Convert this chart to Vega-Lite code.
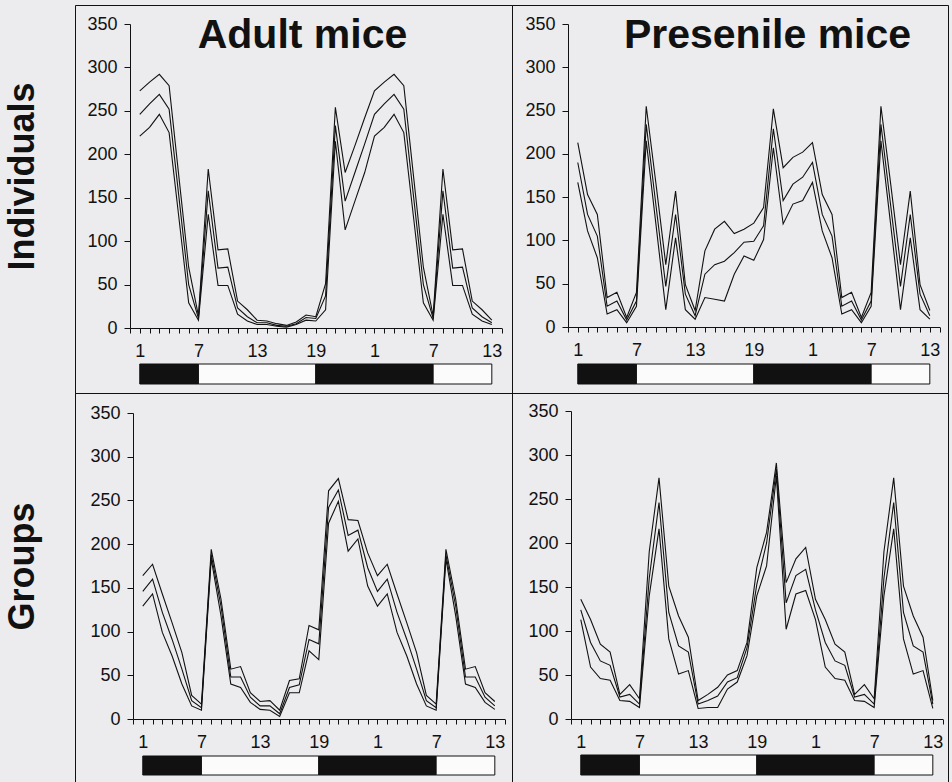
{
  "$schema": "https://vega.github.io/schema/vega-lite/v6.json",
  "background": "#ececee",
  "padding": {"left": 4, "top": 4, "right": 4, "bottom": 1},
  "config": {
    "font": "Liberation Sans",
    "view": {"stroke": "#111", "strokeWidth": 1},
    "concat": {"spacing": 0},
    "axis": {
      "grid": false,
      "domainColor": "#111",
      "tickColor": "#111",
      "labelColor": "#111",
      "labelFont": "Liberation Sans",
      "labelFontSize": 18,
      "labelFlush": false,
      "labelOverlap": false,
      "domainWidth": 1,
      "tickWidth": 1,
      "titleFont": "Liberation Sans",
      "titleFontSize": 36,
      "titleFontWeight": "bold",
      "titleColor": "#111"
    }
  },
  "datasets": {
    "strip": [
      {"h": 0, "h2": 6, "phase": "dark"},
      {"h": 6, "h2": 18, "phase": "light"},
      {"h": 18, "h2": 30, "phase": "dark"},
      {"h": 30, "h2": 36, "phase": "light"}
    ],
    "p1": [
      {"h": 0, "hi": 273, "mid": 246, "lo": 221},
      {"h": 1, "hi": 283, "mid": 258, "lo": 231},
      {"h": 2, "hi": 292, "mid": 269, "lo": 246},
      {"h": 3, "hi": 279, "mid": 252, "lo": 225},
      {"h": 4, "hi": 174, "mid": 151, "lo": 127},
      {"h": 5, "hi": 70, "mid": 50, "lo": 29},
      {"h": 6, "hi": 14, "mid": 11, "lo": 9},
      {"h": 7, "hi": 183, "mid": 158, "lo": 131},
      {"h": 8, "hi": 90, "mid": 69, "lo": 49},
      {"h": 9, "hi": 91, "mid": 70, "lo": 49},
      {"h": 10, "hi": 31, "mid": 23, "lo": 16},
      {"h": 11, "hi": 21, "mid": 13, "lo": 8},
      {"h": 12, "hi": 9, "mid": 6, "lo": 4},
      {"h": 13, "hi": 8, "mid": 6, "lo": 4},
      {"h": 14, "hi": 5, "mid": 3, "lo": 2},
      {"h": 15, "hi": 3, "mid": 2, "lo": 1},
      {"h": 16, "hi": 7, "mid": 5, "lo": 4},
      {"h": 17, "hi": 15, "mid": 12, "lo": 9},
      {"h": 18, "hi": 13, "mid": 11, "lo": 8},
      {"h": 19, "hi": 51, "mid": 37, "lo": 21},
      {"h": 20, "hi": 254, "mid": 233, "lo": 215},
      {"h": 21, "hi": 179, "mid": 146, "lo": 113},
      {"h": 22, "hi": 210, "mid": 179, "lo": 146},
      {"h": 23, "hi": 242, "mid": 212, "lo": 179},
      {"h": 24, "hi": 273, "mid": 246, "lo": 221},
      {"h": 25, "hi": 283, "mid": 258, "lo": 231},
      {"h": 26, "hi": 292, "mid": 269, "lo": 246},
      {"h": 27, "hi": 279, "mid": 252, "lo": 225},
      {"h": 28, "hi": 174, "mid": 151, "lo": 127},
      {"h": 29, "hi": 70, "mid": 50, "lo": 29},
      {"h": 30, "hi": 14, "mid": 11, "lo": 9},
      {"h": 31, "hi": 183, "mid": 158, "lo": 131},
      {"h": 32, "hi": 90, "mid": 69, "lo": 49},
      {"h": 33, "hi": 91, "mid": 70, "lo": 49},
      {"h": 34, "hi": 31, "mid": 23, "lo": 16},
      {"h": 35, "hi": 21, "mid": 13, "lo": 8},
      {"h": 36, "hi": 9, "mid": 6, "lo": 4}
    ],
    "p2": [
      {"h": 0, "hi": 213, "mid": 190, "lo": 167},
      {"h": 1, "hi": 153, "mid": 130, "lo": 111},
      {"h": 2, "hi": 130, "mid": 105, "lo": 80},
      {"h": 3, "hi": 34, "mid": 24, "lo": 15},
      {"h": 4, "hi": 40, "mid": 30, "lo": 20},
      {"h": 5, "hi": 11, "mid": 8, "lo": 5},
      {"h": 6, "hi": 40, "mid": 30, "lo": 24},
      {"h": 7, "hi": 255, "mid": 234, "lo": 215},
      {"h": 8, "hi": 165, "mid": 140, "lo": 118},
      {"h": 9, "hi": 72, "mid": 47, "lo": 20},
      {"h": 10, "hi": 157, "mid": 130, "lo": 103},
      {"h": 11, "hi": 49, "mid": 38, "lo": 20},
      {"h": 12, "hi": 19, "mid": 13, "lo": 9},
      {"h": 13, "hi": 88, "mid": 61, "lo": 34},
      {"h": 14, "hi": 113, "mid": 72, "lo": 32},
      {"h": 15, "hi": 122, "mid": 76, "lo": 30},
      {"h": 16, "hi": 108, "mid": 86, "lo": 61},
      {"h": 17, "hi": 113, "mid": 98, "lo": 82},
      {"h": 18, "hi": 120, "mid": 99, "lo": 77},
      {"h": 19, "hi": 138, "mid": 117, "lo": 101},
      {"h": 20, "hi": 252, "mid": 229, "lo": 207},
      {"h": 21, "hi": 184, "mid": 146, "lo": 119},
      {"h": 22, "hi": 196, "mid": 165, "lo": 142},
      {"h": 23, "hi": 202, "mid": 173, "lo": 146},
      {"h": 24, "hi": 213, "mid": 190, "lo": 167},
      {"h": 25, "hi": 153, "mid": 130, "lo": 111},
      {"h": 26, "hi": 130, "mid": 105, "lo": 80},
      {"h": 27, "hi": 34, "mid": 24, "lo": 15},
      {"h": 28, "hi": 40, "mid": 30, "lo": 20},
      {"h": 29, "hi": 11, "mid": 8, "lo": 5},
      {"h": 30, "hi": 40, "mid": 30, "lo": 24},
      {"h": 31, "hi": 255, "mid": 234, "lo": 215},
      {"h": 32, "hi": 165, "mid": 140, "lo": 118},
      {"h": 33, "hi": 72, "mid": 47, "lo": 20},
      {"h": 34, "hi": 157, "mid": 130, "lo": 103},
      {"h": 35, "hi": 49, "mid": 38, "lo": 20},
      {"h": 36, "hi": 19, "mid": 13, "lo": 9}
    ],
    "p3": [
      {"h": 0, "hi": 164, "mid": 146, "lo": 129},
      {"h": 1, "hi": 177, "mid": 160, "lo": 143},
      {"h": 2, "hi": 143, "mid": 122, "lo": 99},
      {"h": 3, "hi": 110, "mid": 91, "lo": 72},
      {"h": 4, "hi": 76, "mid": 57, "lo": 40},
      {"h": 5, "hi": 27, "mid": 21, "lo": 15},
      {"h": 6, "hi": 17, "mid": 13, "lo": 10},
      {"h": 7, "hi": 194, "mid": 188, "lo": 183},
      {"h": 8, "hi": 137, "mid": 129, "lo": 118},
      {"h": 9, "hi": 57, "mid": 48, "lo": 40},
      {"h": 10, "hi": 60, "mid": 48, "lo": 36},
      {"h": 11, "hi": 30, "mid": 25, "lo": 19},
      {"h": 12, "hi": 20, "mid": 15, "lo": 11},
      {"h": 13, "hi": 21, "mid": 15, "lo": 10},
      {"h": 14, "hi": 10, "mid": 6, "lo": 3},
      {"h": 15, "hi": 44, "mid": 36, "lo": 30},
      {"h": 16, "hi": 46, "mid": 39, "lo": 30},
      {"h": 17, "hi": 107, "mid": 91, "lo": 78},
      {"h": 18, "hi": 102, "mid": 86, "lo": 68},
      {"h": 19, "hi": 261, "mid": 242, "lo": 224},
      {"h": 20, "hi": 275, "mid": 262, "lo": 249},
      {"h": 21, "hi": 228, "mid": 210, "lo": 192},
      {"h": 22, "hi": 227, "mid": 216, "lo": 206},
      {"h": 23, "hi": 190, "mid": 173, "lo": 152},
      {"h": 24, "hi": 164, "mid": 146, "lo": 129},
      {"h": 25, "hi": 177, "mid": 160, "lo": 143},
      {"h": 26, "hi": 143, "mid": 122, "lo": 99},
      {"h": 27, "hi": 110, "mid": 91, "lo": 72},
      {"h": 28, "hi": 76, "mid": 57, "lo": 40},
      {"h": 29, "hi": 27, "mid": 21, "lo": 15},
      {"h": 30, "hi": 17, "mid": 13, "lo": 10},
      {"h": 31, "hi": 194, "mid": 188, "lo": 183},
      {"h": 32, "hi": 137, "mid": 129, "lo": 118},
      {"h": 33, "hi": 57, "mid": 48, "lo": 40},
      {"h": 34, "hi": 60, "mid": 48, "lo": 36},
      {"h": 35, "hi": 30, "mid": 25, "lo": 19},
      {"h": 36, "hi": 20, "mid": 15, "lo": 11}
    ],
    "p4": [
      {"h": 0, "hi": 136, "mid": 124, "lo": 113},
      {"h": 1, "hi": 113, "mid": 87, "lo": 59},
      {"h": 2, "hi": 85, "mid": 66, "lo": 46},
      {"h": 3, "hi": 76, "mid": 61, "lo": 44},
      {"h": 4, "hi": 28, "mid": 25, "lo": 21},
      {"h": 5, "hi": 39, "mid": 28, "lo": 20},
      {"h": 6, "hi": 23, "mid": 17, "lo": 13},
      {"h": 7, "hi": 190, "mid": 160, "lo": 140},
      {"h": 8, "hi": 274, "mid": 246, "lo": 216},
      {"h": 9, "hi": 151, "mid": 121, "lo": 91},
      {"h": 10, "hi": 117, "mid": 83, "lo": 51},
      {"h": 11, "hi": 93, "mid": 76, "lo": 55},
      {"h": 12, "hi": 21, "mid": 17, "lo": 12},
      {"h": 13, "hi": 28, "mid": 21, "lo": 13},
      {"h": 14, "hi": 36, "mid": 26, "lo": 13},
      {"h": 15, "hi": 50, "mid": 42, "lo": 34},
      {"h": 16, "hi": 55, "mid": 47, "lo": 42},
      {"h": 17, "hi": 87, "mid": 81, "lo": 72},
      {"h": 18, "hi": 172, "mid": 153, "lo": 140},
      {"h": 19, "hi": 212, "mid": 200, "lo": 174},
      {"h": 20, "hi": 291, "mid": 284, "lo": 276},
      {"h": 21, "hi": 155, "mid": 132, "lo": 102},
      {"h": 22, "hi": 182, "mid": 163, "lo": 142},
      {"h": 23, "hi": 195, "mid": 170, "lo": 146},
      {"h": 24, "hi": 136, "mid": 124, "lo": 113},
      {"h": 25, "hi": 113, "mid": 87, "lo": 59},
      {"h": 26, "hi": 85, "mid": 66, "lo": 46},
      {"h": 27, "hi": 76, "mid": 61, "lo": 44},
      {"h": 28, "hi": 28, "mid": 25, "lo": 21},
      {"h": 29, "hi": 39, "mid": 28, "lo": 20},
      {"h": 30, "hi": 23, "mid": 17, "lo": 13},
      {"h": 31, "hi": 190, "mid": 160, "lo": 140},
      {"h": 32, "hi": 274, "mid": 246, "lo": 216},
      {"h": 33, "hi": 151, "mid": 121, "lo": 91},
      {"h": 34, "hi": 117, "mid": 83, "lo": 51},
      {"h": 35, "hi": 93, "mid": 76, "lo": 55},
      {"h": 36, "hi": 21, "mid": 17, "lo": 12}
    ]
  },
  "columns": 2,
  "bounds": "flush",
  "spacing": 0,
  "concat": [
    {
      "width": 437,
      "height": 388,
      "layer": [
        {
          "data": {"name": "p1"},
          "transform": [{"fold": ["hi", "mid", "lo"], "as": ["series", "count"]}],
          "mark": {"type": "line", "color": "#111", "strokeWidth": 1.1},
          "encoding": {
            "x": {"field": "h", "type": "quantitative",
              "scale": {"domain": [-1, 37], "range": [55, 426.6], "nice": false, "zero": false},
              "axis": {"title": null, "offset": -65, "values": [-1,0,1,2,3,4,5,6,7,8,9,10,11,12,13,14,15,16,17,18,19,20,21,22,23,24,25,26,27,28,29,30,31,32,33,34,35,36,37], "labelExpr": "datum.value >= 0 && datum.value % 6 == 0 ? '' + (datum.value % 24 + 1) : ''", "tickSize": 5, "labelPadding": 9}},
            "y": {"field": "count", "type": "quantitative", "scale": {"domain": [0, 350], "range": [323, 19], "nice": false},
              "axis": {"title": "Individuals", "offset": -55, "values": [0,50,100,150,200,250,300,350], "tickSize": 6, "labelPadding": 7, "titlePadding": 45}},
            "detail": {"field": "series"}
          }
        },
        {
          "data": {"name": "strip"},
          "mark": {"type": "rect", "stroke": "#111", "strokeWidth": 1},
          "encoding": {
            "x": {"field": "h", "type": "quantitative",
              "scale": {"domain": [-1, 37], "range": [55, 426.6], "nice": false, "zero": false},
              "axis": {"orient": "top", "title": "Adult mice", "domain": false, "ticks": false, "labels": false, "offset": 0, "titleFontSize": 41, "titleBaseline": "alphabetic", "titleAlign": "center", "titleX": 227, "titleY": 42, "titlePadding": 0}},
            "x2": {"field": "h2"},
            "y": {"datum": 0, "type": "quantitative", "scale": {"domain": [0, 1], "range": [379, 359], "nice": false}, "axis": null},
            "y2": {"datum": 1},
            "fill": {"field": "phase", "type": "nominal", "scale": {"domain": ["dark", "light"], "range": ["#111111", "#fbfbfb"]}, "legend": null}
          }
        }
      ],
      "resolve": {"scale": {"y": "independent"}, "axis": {"x": "independent"}}
    },
    {
      "width": 436,
      "height": 388,
      "layer": [
        {
          "data": {"name": "p2"},
          "transform": [{"fold": ["hi", "mid", "lo"], "as": ["series", "count"]}],
          "mark": {"type": "line", "color": "#111", "strokeWidth": 1.1},
          "encoding": {
            "x": {"field": "h", "type": "quantitative",
              "scale": {"domain": [-1, 37], "range": [56, 427.6], "nice": false, "zero": false},
              "axis": {"title": null, "offset": -66, "values": [-1,0,1,2,3,4,5,6,7,8,9,10,11,12,13,14,15,16,17,18,19,20,21,22,23,24,25,26,27,28,29,30,31,32,33,34,35,36,37], "labelExpr": "datum.value >= 0 && datum.value % 6 == 0 ? '' + (datum.value % 24 + 1) : ''", "tickSize": 5, "labelPadding": 9}},
            "y": {"field": "count", "type": "quantitative", "scale": {"domain": [0, 350], "range": [322, 19], "nice": false},
              "axis": {"title": null, "offset": -56, "values": [0,50,100,150,200,250,300,350], "tickSize": 6, "labelPadding": 7}},
            "detail": {"field": "series"}
          }
        },
        {
          "data": {"name": "strip"},
          "mark": {"type": "rect", "stroke": "#111", "strokeWidth": 1},
          "encoding": {
            "x": {"field": "h", "type": "quantitative",
              "scale": {"domain": [-1, 37], "range": [56, 427.6], "nice": false, "zero": false},
              "axis": {"orient": "top", "title": "Presenile mice", "domain": false, "ticks": false, "labels": false, "offset": 0, "titleFontSize": 41, "titleBaseline": "alphabetic", "titleAlign": "center", "titleX": 255, "titleY": 42, "titlePadding": 0}},
            "x2": {"field": "h2"},
            "y": {"datum": 0, "type": "quantitative", "scale": {"domain": [0, 1], "range": [379, 359], "nice": false}, "axis": null},
            "y2": {"datum": 1},
            "fill": {"field": "phase", "type": "nominal", "scale": {"domain": ["dark", "light"], "range": ["#111111", "#fbfbfb"]}, "legend": null}
          }
        }
      ],
      "resolve": {"scale": {"y": "independent"}, "axis": {"x": "independent"}}
    },
    {
      "width": 437,
      "height": 389,
      "layer": [
        {
          "data": {"name": "p3"},
          "transform": [{"fold": ["hi", "mid", "lo"], "as": ["series", "count"]}],
          "mark": {"type": "line", "color": "#111", "strokeWidth": 1.1},
          "encoding": {
            "x": {"field": "h", "type": "quantitative",
              "scale": {"domain": [-1, 37], "range": [58, 429.6], "nice": false, "zero": false},
              "axis": {"title": null, "offset": -63, "values": [-1,0,1,2,3,4,5,6,7,8,9,10,11,12,13,14,15,16,17,18,19,20,21,22,23,24,25,26,27,28,29,30,31,32,33,34,35,36,37], "labelExpr": "datum.value >= 0 && datum.value % 6 == 0 ? '' + (datum.value % 24 + 1) : ''", "tickSize": 5, "labelPadding": 9}},
            "y": {"field": "count", "type": "quantitative", "scale": {"domain": [0, 350], "range": [326, 20], "nice": false},
              "axis": {"title": "Groups", "offset": -58, "values": [0,50,100,150,200,250,300,350], "tickSize": 6, "labelPadding": 7, "titlePadding": 48}},
            "detail": {"field": "series"}
          }
        },
        {
          "data": {"name": "strip"},
          "mark": {"type": "rect", "stroke": "#111", "strokeWidth": 1},
          "encoding": {
            "x": {"field": "h", "type": "quantitative",
              "scale": {"domain": [-1, 37], "range": [58, 429.6], "nice": false, "zero": false}, "axis": null},
            "x2": {"field": "h2"},
            "y": {"datum": 0, "type": "quantitative", "scale": {"domain": [0, 1], "range": [382, 363], "nice": false}, "axis": null},
            "y2": {"datum": 1},
            "fill": {"field": "phase", "type": "nominal", "scale": {"domain": ["dark", "light"], "range": ["#111111", "#fbfbfb"]}, "legend": null}
          }
        }
      ],
      "resolve": {"scale": {"y": "independent"}, "axis": {"x": "independent"}}
    },
    {
      "width": 436,
      "height": 389,
      "layer": [
        {
          "data": {"name": "p4"},
          "transform": [{"fold": ["hi", "mid", "lo"], "as": ["series", "count"]}],
          "mark": {"type": "line", "color": "#111", "strokeWidth": 1.1},
          "encoding": {
            "x": {"field": "h", "type": "quantitative",
              "scale": {"domain": [-1, 37], "range": [59, 430.6], "nice": false, "zero": false},
              "axis": {"title": null, "offset": -63, "values": [-1,0,1,2,3,4,5,6,7,8,9,10,11,12,13,14,15,16,17,18,19,20,21,22,23,24,25,26,27,28,29,30,31,32,33,34,35,36,37], "labelExpr": "datum.value >= 0 && datum.value % 6 == 0 ? '' + (datum.value % 24 + 1) : ''", "tickSize": 5, "labelPadding": 9}},
            "y": {"field": "count", "type": "quantitative", "scale": {"domain": [0, 350], "range": [326, 18], "nice": false},
              "axis": {"title": null, "offset": -59, "values": [0,50,100,150,200,250,300,350], "tickSize": 6, "labelPadding": 7}},
            "detail": {"field": "series"}
          }
        },
        {
          "data": {"name": "strip"},
          "mark": {"type": "rect", "stroke": "#111", "strokeWidth": 1},
          "encoding": {
            "x": {"field": "h", "type": "quantitative",
              "scale": {"domain": [-1, 37], "range": [59, 430.6], "nice": false, "zero": false}, "axis": null},
            "x2": {"field": "h2"},
            "y": {"datum": 0, "type": "quantitative", "scale": {"domain": [0, 1], "range": [382, 362], "nice": false}, "axis": null},
            "y2": {"datum": 1},
            "fill": {"field": "phase", "type": "nominal", "scale": {"domain": ["dark", "light"], "range": ["#111111", "#fbfbfb"]}, "legend": null}
          }
        }
      ],
      "resolve": {"scale": {"y": "independent"}, "axis": {"x": "independent"}}
    }
  ]
}
